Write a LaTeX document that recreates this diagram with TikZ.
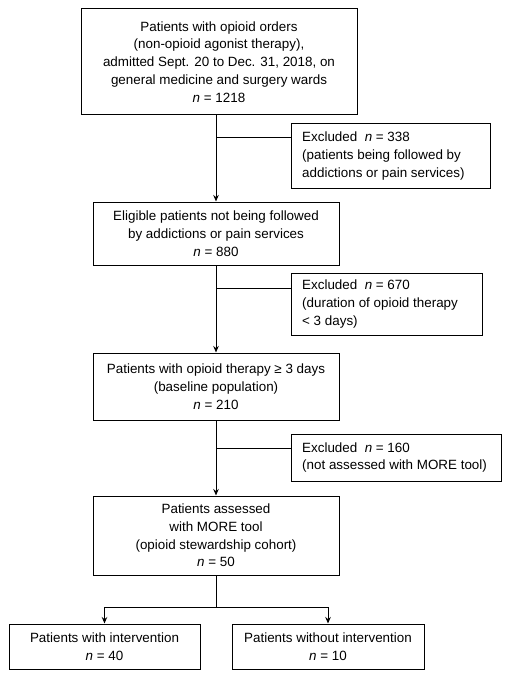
\documentclass[tikz,border=0pt]{standalone}
\usepackage{fontspec}
\setmainfont{Liberation Sans}
\usetikzlibrary{arrows.meta}
\begin{document}
\begin{tikzpicture}[x=1pt,y=-1pt,
  every node/.style={font=\fontsize{13.4}{17.8}\selectfont},
  mainbox/.style={draw,line width=1pt,align=center,inner sep=0pt},
  conn/.style={line width=1pt},
  arr/.style={line width=1pt,-{Stealth[length=6.5pt,width=5.5pt]}}]
\useasboundingbox (0,0) rectangle (514,679);
\node[mainbox,minimum width=276pt,minimum height=106pt] (b1) at (219,62)
  {Patients with opioid orders\\(non-opioid agonist therapy),\\admitted Sept. 20 to Dec. 31, 2018, on\\general medicine and surgery wards\\\textit{n} = 1218};
\node[mainbox,minimum width=246pt,minimum height=63pt] (b2) at (216,233.5)
  {Eligible patients not being followed\\by addictions or pain services\\\textit{n} = 880};
\node[mainbox,minimum width=246pt,minimum height=67pt] (b3) at (216,386.5)
  {Patients with opioid therapy ≥ 3 days\\(baseline population)\\\textit{n} = 210};
\node[mainbox,minimum width=246pt,minimum height=79pt] (b4) at (216,535.5)
  {Patients assessed\\with MORE tool\\(opioid stewardship cohort)\\\textit{n} = 50};
\node[mainbox,minimum width=191pt,minimum height=45pt] (b5) at (104.5,646.5)
  {Patients with intervention\\\textit{n} = 40};
\node[mainbox,minimum width=192pt,minimum height=45pt] (b6) at (328,646.5)
  {Patients without intervention\\\textit{n} = 10};
\node[draw,line width=1pt,minimum width=199pt,minimum height=64pt,inner sep=0pt] (e1) at (390.5,156) {};
\node[anchor=west,align=left,inner sep=0pt] (t1) at (302,156)
  {Excluded\ \ \textit{n} = 338\\(patients being followed by\\addictions or pain services)};
\node[draw,line width=1pt,minimum width=191pt,minimum height=62pt,inner sep=0pt] (e2) at (386.5,304) {};
\node[anchor=west,align=left,inner sep=0pt] (t2) at (302,304)
  {Excluded\ \ \textit{n} = 670\\(duration of opioid therapy\\< 3 days)};
\node[draw,line width=1pt,minimum width=210pt,minimum height=47pt,inner sep=0pt] (e3) at (396,457.5) {};
\node[anchor=west,align=left,inner sep=0pt] (t3) at (302,457.5)
  {Excluded\ \ \textit{n} = 160\\(not assessed with MORE tool)};
\coordinate (j1) at (216,138);
\coordinate (j2) at (216,288);
\coordinate (j3) at (216,448);
\coordinate (j4) at (216,607);
\draw[arr] (b1.south -| b2) -- (b2.north);
\draw[conn] (j1) -- (e1.west |- j1);
\draw[arr] (b2.south) -- (b3.north);
\draw[conn] (j2) -- (e2.west |- j2);
\draw[arr] (b3.south) -- (b4.north);
\draw[conn] (j3) -- (e3.west |- j3);
\draw[conn] (b4.south) -- (j4);
\draw[arr] (j4) -- (b5.north |- j4) -- (b5.north);
\draw[arr] (j4) -- (b6.north |- j4) -- (b6.north);
\end{tikzpicture}
\end{document}
